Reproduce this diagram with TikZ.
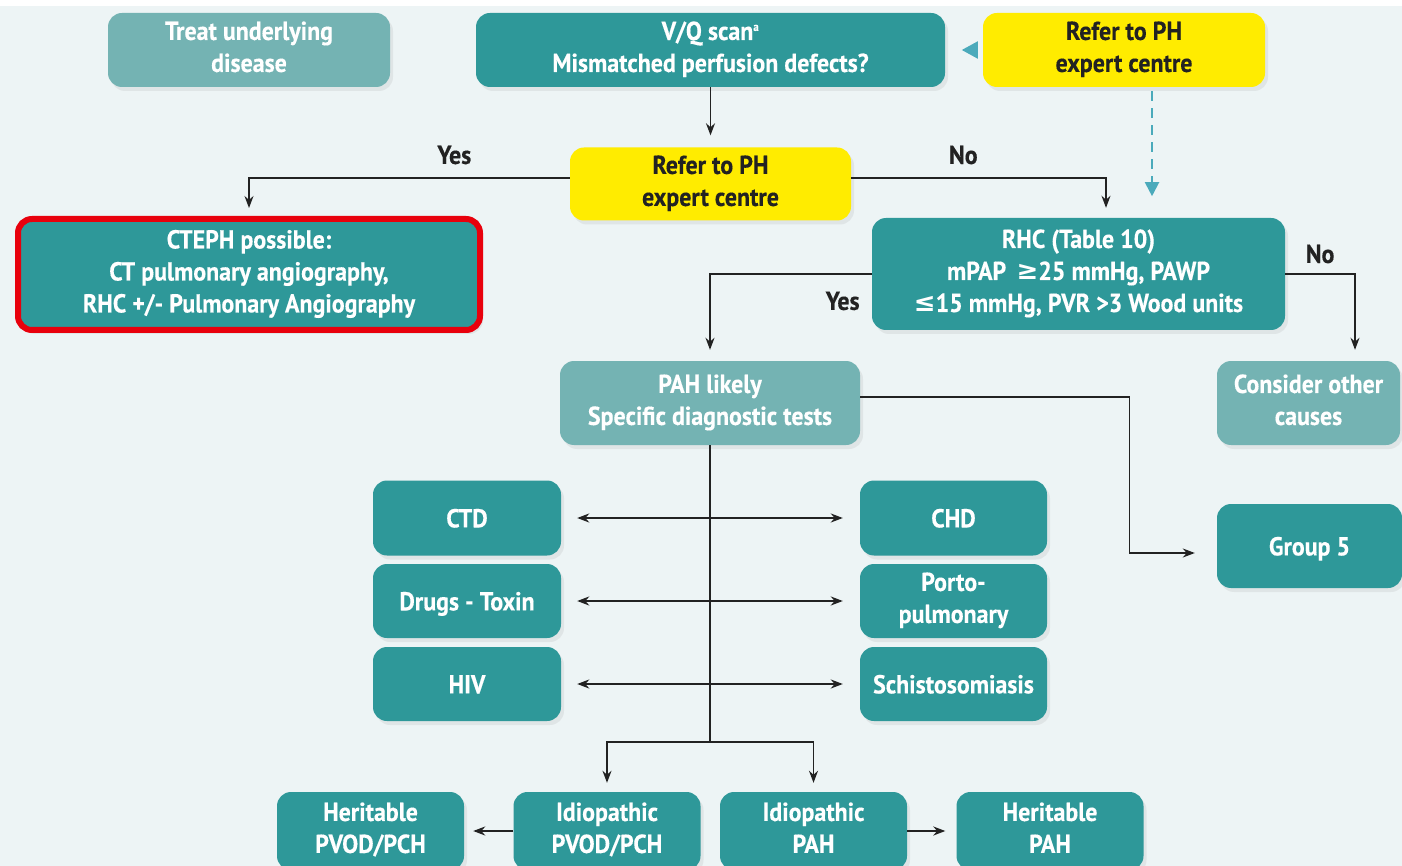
\documentclass[tikz,border=0pt]{standalone}
\usepackage{fontspec}
\setmainfont[FakeStretch=0.92, BoldFeatures={FakeBold=0.3}]{PT Sans}
\newfontfamily\symfont{DejaVu Sans}
\usetikzlibrary{arrows.meta, positioning, shadows}
\definecolor{tealbox}{RGB}{46,152,153}
\definecolor{lightbox}{RGB}{116,179,179}
\definecolor{referyellow}{RGB}{255,236,0}
\definecolor{paleback}{RGB}{237,244,245}
\definecolor{dashteal}{RGB}{75,170,187}
\definecolor{linegray}{RGB}{34,34,34}
\definecolor{alertred}{RGB}{232,0,12}
\newcommand\boxstrut{\rule[-6.6pt]{0pt}{32pt}}

\tikzset{
  tbox/.style={rectangle, rounded corners=14pt, fill=tealbox, text=white, align=center,
    font=\fontsize{26}{32}\selectfont\bfseries, inner sep=0pt,
    execute at begin node=\boxstrut, execute at end node=\boxstrut,
    drop shadow={opacity=0.12, shadow xshift=3pt, shadow yshift=-4pt}},
  palebox/.style={tbox, fill=lightbox},
  referbox/.style={tbox, fill=referyellow, text=linegray},
  arr/.style={-{Stealth[length=12pt, width=9pt]}, linegray, line width=1.4pt},
  dblarr/.style={{Stealth[length=12pt, width=9pt]}-{Stealth[length=12pt, width=9pt]}, linegray, line width=2.2pt},
  answer/.style={font=\fontsize{26}{28}\selectfont\bfseries, text=linegray, inner sep=2pt},
  dasharr/.style={-{Triangle[length=14pt, width=14pt]}, dashteal, line width=2pt, dash pattern=on 10pt off 7pt}
}

\begin{document}
\begin{tikzpicture}[x=1pt, y=-1pt]
    \fill[paleback] (0,0) rectangle (1402,866);
    \fill[white] (0,0) rectangle (1402,6);
    \useasboundingbox (0,0) rectangle (1402,866);
    % Top row
    \node[palebox, minimum width=282, minimum height=74] (treat) at (249,50) {Treat underlying\\disease};
    \node[tbox, minimum width=469, minimum height=74] (vq) at (710.5,50) {V/Q scan\textsuperscript{\fontsize{12}{12}\selectfont a}\\Mismatched perfusion defects?};
    \node[referbox, minimum width=282, minimum height=74] (refertop) at (1124,50) {Refer to PH\\expert centre};
    \node[referbox, minimum width=281, minimum height=73] (refermid) at (710.5,184) {Refer to PH\\expert centre};
    % Second level
    \node[tbox, draw=alertred, line width=6pt, minimum width=462, minimum height=111] (cteph) at (249,274.5)
        {CTEPH possible:\\CT pulmonary angiography,\\RHC +/- Pulmonary Angiography};
    \node[tbox, minimum width=413, minimum height=112] (rhc) at (1078.5,274)
        {RHC (Table 10)\\mPAP\, {\symfont ≥}25 mmHg, PAWP\\{\symfont ≤}15 mmHg, PVR >3 Wood units};
    \node[palebox, minimum width=300, minimum height=84] (pah) at (710,403) {PAH likely\\Specific diagnostic tests};
    \node[palebox, minimum width=183, minimum height=84] (other) at (1308.5,403) {Consider other\\causes};
    \node[tbox, minimum width=185, minimum height=84] (group5) at (1309.5,546) {Group 5};
    % Associated conditions
    \node[tbox, minimum width=188, minimum height=75] (ctd) at (467,518) {CTD};
    \node[tbox, minimum width=187, minimum height=75] (chd) at (953.5,518) {CHD};
    \node[tbox, minimum width=188, minimum height=74] (drugs) at (467,601) {Drugs - Toxin};
    \node[tbox, minimum width=187, minimum height=74] (porto) at (953.5,601) {Porto-\\pulmonary};
    \node[tbox, minimum width=188, minimum height=74] (hiv) at (467,684) {HIV};
    \node[tbox, minimum width=187, minimum height=74] (schisto) at (953.5,684) {Schistosomiasis};
    % Bottom row
    \node[tbox, minimum width=187, minimum height=78] (herpvod) at (370.5,831) {Heritable\\PVOD/PCH};
    \node[tbox, minimum width=187, minimum height=78] (idpvod) at (607,831) {Idiopathic\\PVOD/PCH};
    \node[tbox, minimum width=187, minimum height=78] (idpah) at (813.5,831) {Idiopathic\\PAH};
    \node[tbox, minimum width=187, minimum height=78] (herpah) at (1050,831) {Heritable\\PAH};
    % Connections
    \draw[arr, shorten >=12pt] (vq.south) -- (refermid.north);
    \draw[arr, shorten >=8pt] ([yshift=6pt]refermid.west) -| node[answer, pos=0.18, above=11pt] {Yes} (cteph.north);
    \draw[arr, shorten >=10pt] ([yshift=6pt]refermid.east) -| node[answer, pos=0.22, above=11pt] {No} ([xshift=27.5pt]rhc.north);
    \draw[arr, shorten >=11pt] (rhc.west) -| node[answer, pos=0.09, below=15pt] {Yes} (pah.north);
    \draw[arr, shorten >=11pt] (rhc.east) -| node[answer, pos=0.25, above=8pt] {No} ([xshift=46.5pt]other.north);
    \draw[arr, shorten >=22pt] ([yshift=6pt]pah.east) -- ++(269,0) |- ([yshift=-7pt]group5.west);
    \coordinate (split) at (710,742);
    \draw[linegray, line width=1.4pt] (pah.south) -- (split);
    \draw[arr, shorten >=9pt] (split) -| (idpvod.north);
    \draw[arr, shorten >=9pt] (split) -| (idpah.north);
    \foreach \a/\b in {ctd/chd, drugs/porto, hiv/schisto} {
        \draw[dblarr, shorten <=16pt, shorten >=17pt] (\a.east) -- (\b.west);
    }
    \draw[arr, line width=2pt, shorten >=9pt] (idpvod.west) -- (herpvod.east);
    \draw[arr, line width=2pt, shorten >=11pt] (idpah.east) -- (herpah.west);
    % Referral links
    \draw[dasharr, shorten <=4pt] ([xshift=28pt]refertop.south) -- ++(0,109);
    \draw[-{Triangle[length=16pt, width=17pt]}, dashteal, line width=2pt, shorten <=5pt] (refertop.west) -- ++(-21,0);
\end{tikzpicture}
\end{document}
